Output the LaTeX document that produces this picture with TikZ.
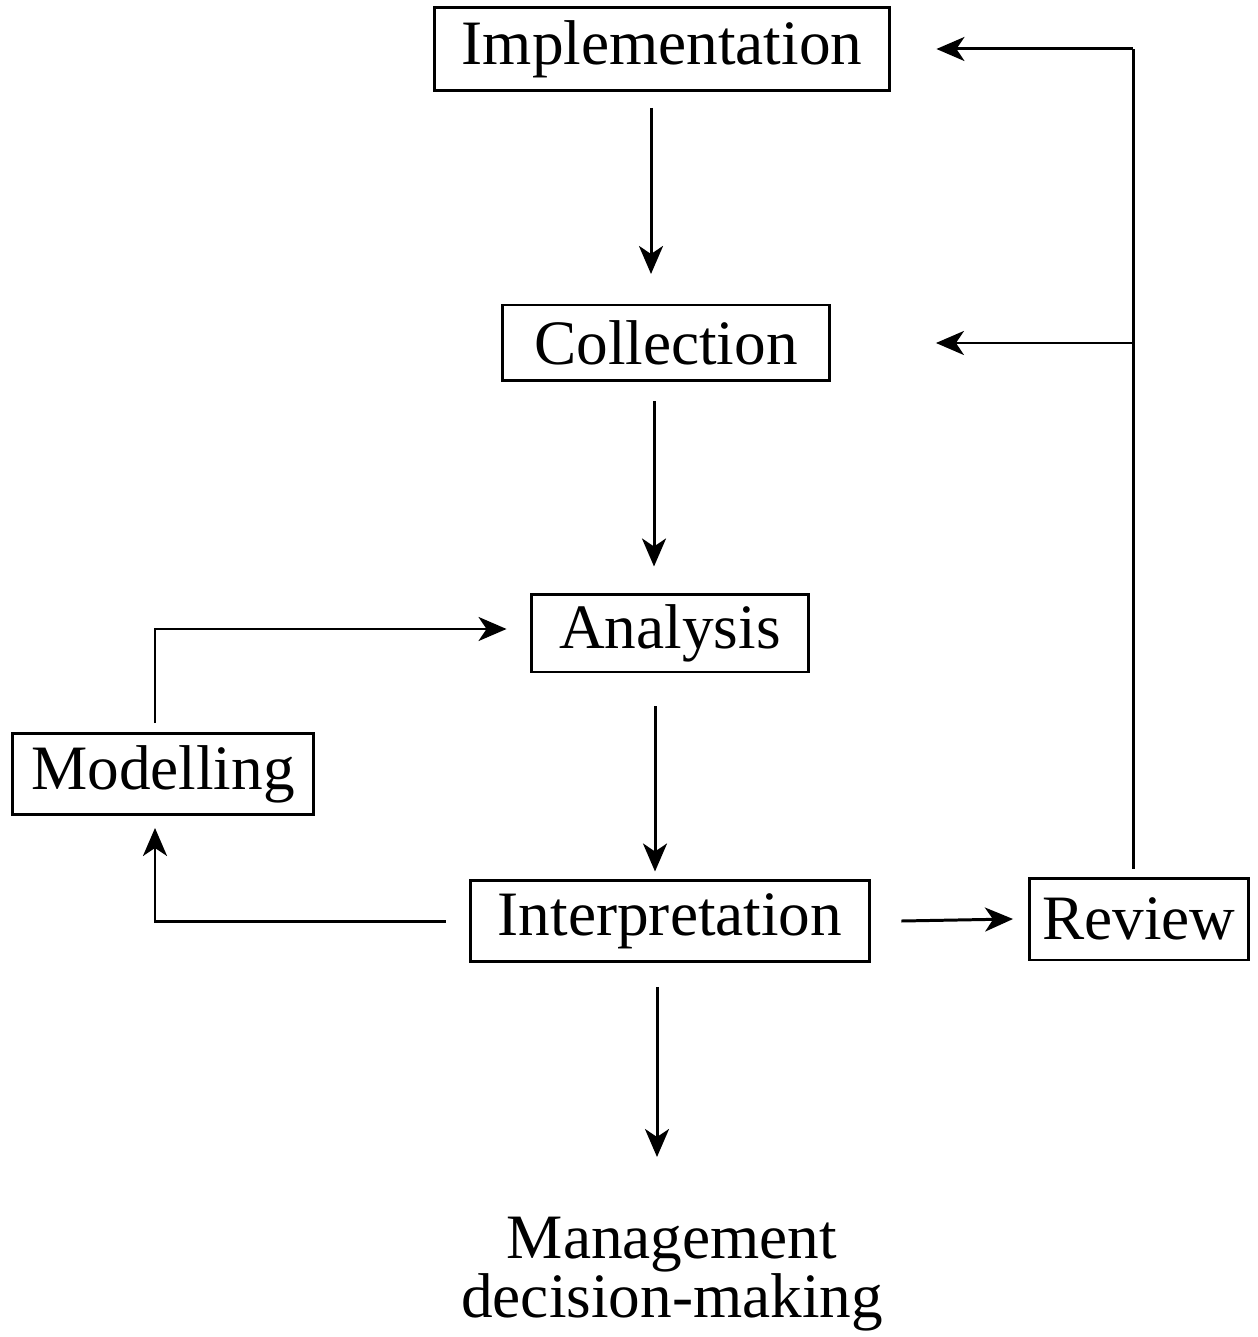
\documentclass[tikz,border=0pt]{standalone}
\usepackage{fontspec}
\setmainfont{Liberation Serif}
\usetikzlibrary{arrows.meta}
\begin{document}
\begin{tikzpicture}[x=0.02cm,y=-0.02cm,
  stagebox/.style={draw,line width=1.7pt,inner sep=0pt,minimum height=1.6cm,
    font=\fontsize{36}{40}\selectfont},
  flow/.style={line width=1.7pt,-{Stealth[length=0.56cm,width=0.48cm,inset=0.16cm]}},
  plain/.style={line width=1.7pt}]
\useasboundingbox (0,0) rectangle (1257,1337);
% stages
\node[stagebox,minimum width=9.12cm,minimum height=1.66cm] (impl) at (662,49) {Implementation};
\node[stagebox,minimum width=6.54cm,minimum height=1.52cm] (coll) at (666,343) {Collection};
\node[stagebox,minimum width=5.56cm,minimum height=1.56cm] (anal) at (670,633) {Analysis};
\node[stagebox,minimum width=6.04cm,minimum height=1.62cm] (model) at (163,774) {Modelling};
\node[stagebox,minimum width=8.0cm,minimum height=1.62cm] (interp) at (670,921) {Interpretation};
\node[stagebox,minimum width=4.38cm,minimum height=1.64cm] (review) at (1139,919) {Review};
\node[align=center,inner sep=0pt,font=\fontsize{36}{24}\selectfont] (mgmt) at (672,1274)
  {Management\\decision-making};
% main chain, each arrow set a little off the boxes it joins
\draw[flow] ([xshift=-0.22cm]impl.south) ++(0,16) -- ++(0,166);
\draw[flow] ([xshift=-0.24cm]coll.south) ++(0,19) -- ++(0,165);
\draw[flow] ([xshift=-0.3cm]anal.south) ++(0,33) -- ++(0,165);
\draw[flow] ([xshift=-0.26cm]interp.south) ++(0,24) -- ++(0,170);
\draw[flow] ([xshift=0.6cm]interp.east) -- ([xshift=-0.3cm]review.west);
% review feedback to implementation and collection
\coordinate (rtop) at (review.north |- impl.east);
\coordinate (rmid) at (review.north |- coll.east);
\draw[plain] ([xshift=-0.12cm,yshift=0.16cm]review.north) -- ([xshift=-0.12cm]rtop);
\draw[flow] ([xshift=-0.12cm]rtop) -- ([xshift=0.9cm]impl.east |- rtop);
\draw[flow] ([xshift=-0.12cm]rmid) -- ([xshift=2.1cm]coll.east);
% modelling loop
\draw[flow] ([xshift=-0.46cm]interp.west) -- ([xshift=-0.16cm]model.south |- interp.west)
  -- ([xshift=-0.16cm,yshift=-0.24cm]model.south);
\draw[flow] ([xshift=-0.16cm,yshift=0.18cm]model.north) |- ([xshift=-0.46cm,yshift=0.08cm]anal.west);
\end{tikzpicture}
\end{document}
